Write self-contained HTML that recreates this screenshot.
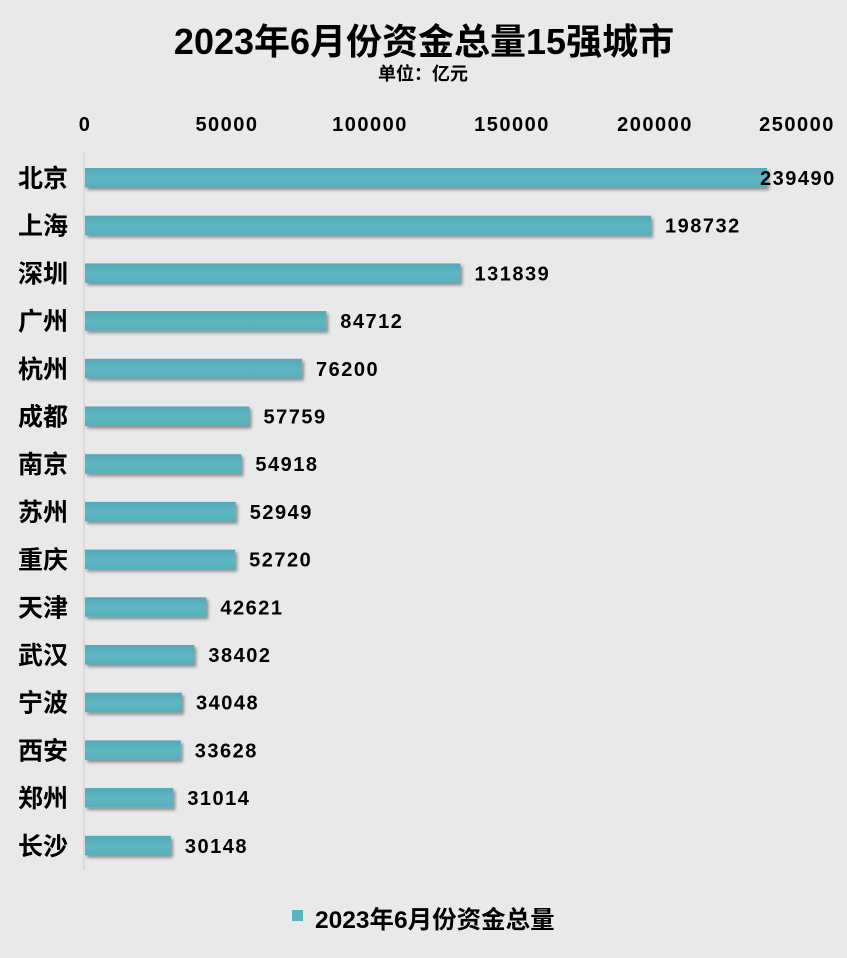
<!DOCTYPE html>
<html><head><meta charset="utf-8"><style>
body{margin:0;background:#e9e9e9;}
svg{display:block;font-family:"Liberation Sans","Noto Sans CJK SC",sans-serif;font-weight:bold;}
</style></head><body>
<svg width="847" height="958" viewBox="0 0 847 958">
<defs>
<linearGradient id="g" x1="0" y1="0" x2="0" y2="1"><stop offset="0" stop-color="#52a9b7"/><stop offset="0.5" stop-color="#5fb7c2"/><stop offset="1" stop-color="#56afbb"/></linearGradient>
<filter id="s" x="-5%" y="-50%" width="110%" height="200%"><feDropShadow dx="2" dy="2.5" stdDeviation="1.5" flood-color="#000" flood-opacity="0.4"/></filter>
</defs>
<rect width="847" height="958" fill="#e9e9e9"/>
<text x="424" y="54" text-anchor="middle" font-size="36" fill="#000">2023年6月份资金总量15强城市</text>
<text x="423" y="80" text-anchor="middle" font-size="18" fill="#000">单位：亿元</text>
<g font-size="20" letter-spacing="1.5" text-anchor="middle" fill="#000">
<text x="85" y="131">0</text><text x="227" y="131">50000</text><text x="370" y="131">100000</text><text x="512" y="131">150000</text><text x="655" y="131">200000</text><text x="797" y="131">250000</text>
</g>
<line x1="84" y1="152" x2="84" y2="870" stroke="#d6d6d6" stroke-width="1.5"/>
<g id="bars" font-size="20" letter-spacing="1.5" fill="#000"></g>
<rect x="292" y="910" width="11" height="11" fill="#5ab4c0"/>
<text x="315" y="928" font-size="24.5" fill="#000">2023年6月份资金总量</text>
</svg>
<script>
var d=[["北京",239490],["上海",198732],["深圳",131839],["广州",84712],["杭州",76200],["成都",57759],["南京",54918],["苏州",52949],["重庆",52720],["天津",42621],["武汉",38402],["宁波",34048],["西安",33628],["郑州",31014],["长沙",30148]];
var g=document.getElementById('bars'),h='';
d.forEach(function(r,i){var c=178+i*47.7,w=r[1]*0.002848;
h+='<text x="18" y="'+(c+9)+'" font-size="25" letter-spacing="0">'+r[0]+'</text>';
h+='<rect x="85" y="'+(c-10)+'" width="'+w+'" height="19.5" fill="url(#g)" filter="url(#s)"/>';
h+='<text x="'+(85+w+(i==0?-7:14))+'" y="'+(c+7)+'">'+r[1]+'</text>';});
g.innerHTML=h;
</script>
</body></html>
